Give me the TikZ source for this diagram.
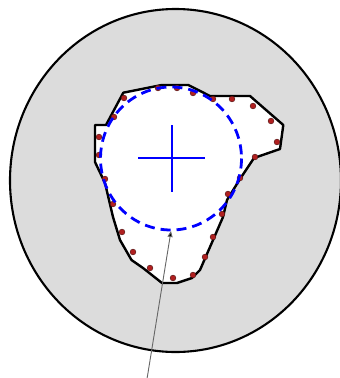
\documentclass[tikz,border=0pt]{standalone}
\usetikzlibrary{arrows.meta}
\definecolor{bggray}{HTML}{DCDCDC}
\definecolor{dotred}{HTML}{B02020}
\begin{document}
\begin{tikzpicture}[x=1pt,y=-1pt,
  outline/.style={draw=black,line width=2.4pt,line join=round},
  reddot/.style={fill=dotred,draw=black!60!dotred,line width=0.4pt},
  bluedash/.style={draw=blue,line width=2.8pt,dash pattern=on 10pt off 6pt},
  bluecross/.style={draw=blue,line width=2.2pt},
  pointer/.style={draw=black!60,line width=0.9pt,-{Triangle[length=6pt,width=5pt,fill=black]}}]
\useasboundingbox (0,0) rectangle (340,378);
\fill[white] (0,0) rectangle (340,378);
\draw[fill=bggray,line width=2.1pt] (175.5,180.5) ellipse [x radius=165.5,y radius=171.5];
\draw[outline,fill=white] (123.3,92.7) -- (161.7,85) -- (188.3,85) -- (210,96) -- (250,96)
  -- (283.3,125) -- (280,149) -- (254,158) -- (240,179) -- (227,200) -- (223,217)
  -- (210,247) -- (200,270) -- (192,278) -- (177,283) -- (162,283) -- (143,268)
  -- (131.5,260) -- (120,240) -- (113,217) -- (105,183) -- (95,162) -- (95,125)
  -- (106,125) -- cycle;
\foreach \p in {(124,98),(114,117),(99,137),(99,155),(105,179),(113,204),(122,232),
  (133,252),(150,268),(173,278),(193,275),(205,257),(213,237),(222,214),(228,194),
  (240,178),(255,157),(277,142),(271,121),(253,106),(232,99),(213,99),(193,93),
  (177,88),(158,88)}
  \path[reddot] \p circle (2.9);
\draw[bluedash] (171,158.5) ellipse [x radius=70.5,y radius=71.5];
\draw[bluecross] (138,158) -- (205,158);
\draw[bluecross] (172,125) -- (172,192);
\coordinate (tail) at (147,379);
\coordinate (tip) at (171,231);
\draw[pointer] (tail) -- (tip);
\end{tikzpicture}
\end{document}
